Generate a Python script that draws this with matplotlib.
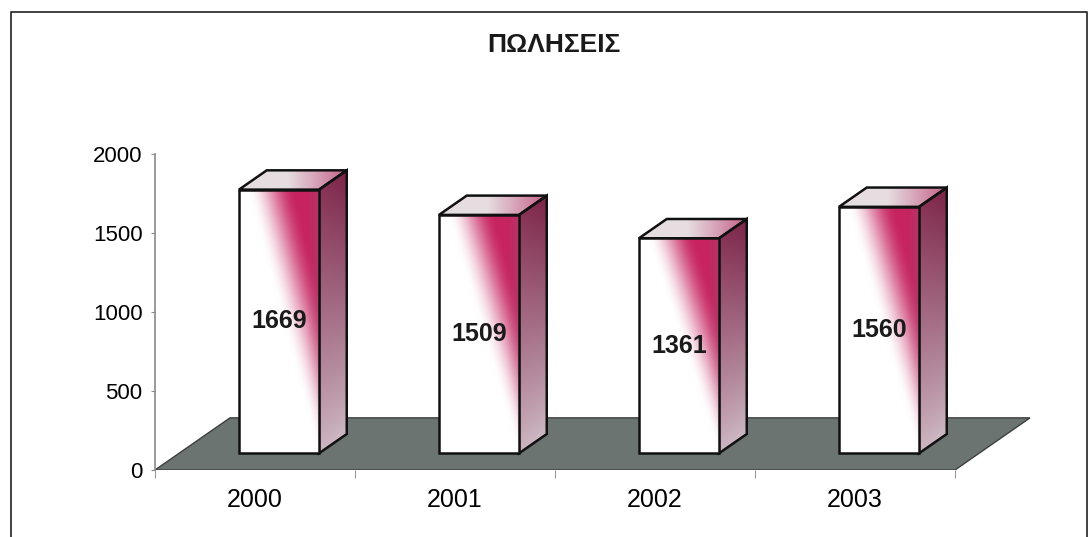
import numpy as np
import matplotlib.pyplot as plt
from matplotlib.patches import Polygon
from matplotlib.lines import Line2D

years = ["2000", "2001", "2002", "2003"]
sales = [1669, 1509, 1361, 1560]
title = "ΠΩΛΗΣΕΙΣ"
yticks = [0, 500, 1000, 1500, 2000]

plt.rcParams["font.family"] = ["Liberation Sans", "DejaVu Sans"]

W, H = 1091, 537
fig = plt.figure(figsize=(W / 100, H / 100), dpi=100)
ax = fig.add_axes([155 / W, 67 / H, 900 / W, 316 / H])
ax.set_xlim(0, 4.5)
ax.set_ylim(0, 2000)

# one unit of depth -> shift in (category units, value units)
DX, DY = 0.375, 330

# floor
floor = Polygon([(0, 0), (4, 0), (4 + DX, DY), (DX, DY)], closed=True,
                facecolor="#6c7471", edgecolor="#3c3f3e", lw=1.0, zorder=1)
ax.add_patch(floor)

white = np.array([1.0, 1.0, 1.0])
magenta = np.array([0.78, 0.14, 0.38])


def add_face(pts, colfun, z, n=160):
    pts = np.array(pts)
    x0, x1 = pts[:, 0].min(), pts[:, 0].max()
    y0, y1 = pts[:, 1].min(), pts[:, 1].max()
    X, Y = np.meshgrid(np.linspace(x0, x1, n), np.linspace(y0, y1, n))
    img = np.clip(colfun(X, Y), 0, 1)
    clip = Polygon(pts, closed=True, facecolor="none", edgecolor="none")
    ax.add_patch(clip)
    im = ax.imshow(img, extent=[x0, x1, y0, y1], origin="lower",
                   aspect="auto", interpolation="bilinear", zorder=z)
    im.set_clip_path(clip)
    ax.add_patch(Polygon(pts, closed=True, fill=False, edgecolor="#111111",
                         lw=1.8, joinstyle="miter", zorder=z + 0.5))


d0, dd = 0.32, 0.37
bw = 0.4
for i, (yr, v) in enumerate(zip(years, sales)):
    xl = i + 0.3 + d0 * DX
    xr = xl + bw
    yb = d0 * DY
    yt = yb + v
    ddx, ddy = dd * DX, dd * DY

    def front(X, Y, xl=xl, xr=xr, yb=yb, yt=yt):
        u = (X - xl) / (xr - xl)
        w = (Y - yb) / (yt - yb)
        b = 0.10 + 0.88 * (1 - w)
        t = np.clip((u - b) / 0.6, 0, 1)
        t = (t * t * (3 - 2 * t))[..., None]
        c = white * (1 - t) + magenta * t
        edge = np.clip((u - 0.85) / 0.15, 0, 1)[..., None] * t * 0.3
        return c * (1 - edge) + np.array([0.55, 0.35, 0.45]) * edge

    def side(X, Y, xr=xr, yb=yb, yt=yt, ddx=ddx, ddy=ddy):
        s = np.clip((X - xr) / ddx, 0, 1)
        w = np.clip((Y - yb - s * ddy) / (yt - yb), 0, 1)[..., None]
        top = np.array([0.48, 0.14, 0.28])
        bot = np.array([0.80, 0.73, 0.77])
        c = bot + (top - bot) * w ** 0.9
        light = (1 - s[..., None]) * 0.15
        return c * (1 - light) + np.array([0.85, 0.6, 0.7]) * light

    def topf(X, Y, xl=xl, xr=xr, ddx=ddx):
        u = (X - xl) / (xr + ddx - xl)
        t = np.clip((u - 0.45) / 0.55, 0, 1)[..., None]
        return np.array([0.90, 0.87, 0.88]) * (1 - t) + np.array([0.78, 0.38, 0.54]) * t

    add_face([(xr, yb), (xr + ddx, yb + ddy), (xr + ddx, yt + ddy), (xr, yt)], side, 3)
    add_face([(xl, yt), (xr, yt), (xr + ddx, yt + ddy), (xl + ddx, yt + ddy)], topf, 3)
    add_face([(xl, yb), (xr, yb), (xr, yt), (xl, yt)], front, 4)

    ax.text((xl + xr) / 2, yb + v / 2, str(v), ha="center", va="center",
            fontsize=18, fontweight="bold", color="#1a1a1a", zorder=6)

# axes styling
for s in ["top", "right", "bottom"]:
    ax.spines[s].set_visible(False)
ax.spines["left"].set_color("#8a8a8a")
ax.spines["left"].set_linewidth(1.2)
ax.set_yticks(yticks)
ax.set_yticklabels([str(t) for t in yticks])
ax.tick_params(axis="y", length=3, color="#8a8a8a", labelsize=16, pad=6)
ax.set_xticks([0, 1, 2, 3, 4])
ax.set_xticklabels([""] * 5)
ax.set_xticks([0.5, 1.5, 2.5, 3.5], minor=True)
ax.set_xticklabels(years, minor=True)
ax.tick_params(axis="x", which="major", length=6, color="#9a9a9a")
ax.tick_params(axis="x", which="minor", length=0, labelsize=18, pad=13)
ax.set_facecolor("none")

fig.text(554 / W, 1 - 45 / H, title, ha="center", va="center",
         fontsize=19, fontweight="bold", color="#1a1a1a")

# outer chart frame
fig.add_artist(Line2D([11 / W, 11 / W, 1087 / W, 1087 / W],
                      [0, 1 - 12 / H, 1 - 12 / H, 0],
                      transform=fig.transFigure, color="#333333", lw=1.3))

fig.savefig("out.png", dpi=100)
